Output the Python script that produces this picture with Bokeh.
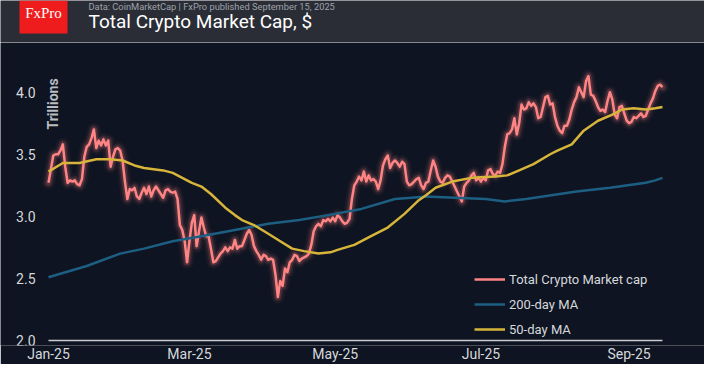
import math
import numpy as np
import pandas as pd
from bokeh.plotting import figure
from bokeh.models import Range1d, FixedTicker, Legend, LegendItem
from bokeh.layouts import column
from bokeh.embed import file_html
from bokeh.resources import INLINE
from bokeh.core.properties import value

# ---------------- data ----------------
start_date = "2025-01-01"

# Total crypto market cap, trillions USD, daily from 2025-01-01
market_cap = [
    3.27, 3.38, 3.49, 3.50, 3.50, 3.53, 3.58, 3.40, 3.27, 3.29,
    3.28, 3.29, 3.26, 3.25, 3.30, 3.48, 3.56, 3.58, 3.63, 3.70,
    3.55, 3.61, 3.57, 3.62, 3.57, 3.61, 3.40, 3.48, 3.54, 3.55,
    3.53, 3.45, 3.28, 3.14, 3.22, 3.21, 3.23, 3.16, 3.14, 3.19,
    3.23, 3.18, 3.24, 3.16, 3.21, 3.24, 3.21, 3.18, 3.15, 3.21,
    3.22, 3.20, 3.19, 3.20, 3.14, 2.93, 2.89, 2.80, 2.63, 2.80,
    2.95, 3.01, 2.76, 2.88, 2.99, 2.91, 2.84, 2.84, 2.74, 2.63,
    2.64, 2.67, 2.70, 2.72, 2.75, 2.72, 2.75, 2.74, 2.81, 2.74,
    2.76, 2.76, 2.81, 2.86, 2.89, 2.85, 2.76, 2.72, 2.69, 2.65,
    2.69, 2.68, 2.65, 2.66, 2.65, 2.53, 2.35, 2.48, 2.44, 2.58,
    2.55, 2.63, 2.65, 2.69, 2.68, 2.64, 2.66, 2.67, 2.68, 2.70,
    2.77, 2.88, 2.92, 2.94, 2.92, 2.97, 2.96, 2.98, 2.96, 2.99,
    2.96, 3.01, 2.99, 2.96, 2.94, 2.95, 2.98, 3.14, 3.25, 3.28,
    3.32, 3.29, 3.36, 3.28, 3.33, 3.29, 3.30, 3.28, 3.22, 3.29,
    3.41, 3.46, 3.49, 3.39, 3.43, 3.45, 3.43, 3.40, 3.44, 3.42,
    3.28, 3.25, 3.26, 3.28, 3.30, 3.31, 3.25, 3.22, 3.27, 3.28,
    3.37, 3.45, 3.40, 3.32, 3.28, 3.27, 3.31, 3.33, 3.32, 3.28,
    3.24, 3.20, 3.16, 3.12, 3.24, 3.27, 3.29, 3.33, 3.35, 3.29,
    3.31, 3.28, 3.31, 3.29, 3.37, 3.38, 3.34, 3.33, 3.36, 3.35,
    3.42, 3.56, 3.66, 3.67, 3.70, 3.79, 3.66, 3.75, 3.90, 3.86,
    3.87, 3.92, 3.89, 3.91, 3.88, 3.79, 3.80, 3.88, 3.96, 3.97,
    3.90, 3.91, 3.80, 3.73, 3.69, 3.67, 3.73, 3.73, 3.78, 3.86,
    3.92, 3.96, 4.04, 4.00, 3.96, 4.09, 4.13, 3.98, 3.97, 3.93,
    3.88, 3.85, 3.86, 3.84, 3.93, 4.00, 3.94, 3.82, 3.79, 3.88,
    3.89, 3.83, 3.77, 3.75, 3.76, 3.80, 3.79, 3.81, 3.83, 3.80,
    3.81, 3.86, 3.91, 3.95, 4.01, 4.05, 4.06, 4.04,
]

# 50-day moving average (day offset from start, value)
ma50_days = [0, 6, 13, 20, 26, 31, 36, 40, 44, 48, 52, 56, 60, 64, 68, 74, 78, 81,
             86, 92, 97, 102, 107, 113, 118, 121, 128, 135, 142, 149, 155, 158, 162,
             169, 177, 187, 192, 197, 203, 210, 213, 219, 224, 230, 236, 240, 245,
             250, 254, 257]
ma50_values = [3.36, 3.43, 3.43, 3.46, 3.46, 3.45, 3.41, 3.39, 3.38, 3.37, 3.35, 3.31,
               3.27, 3.24, 3.18, 3.07, 3.01, 2.97, 2.93, 2.86, 2.80, 2.74, 2.72, 2.70,
               2.71, 2.73, 2.77, 2.84, 2.91, 3.02, 3.13, 3.17, 3.23, 3.28, 3.31, 3.32,
               3.33, 3.37, 3.42, 3.50, 3.53, 3.58, 3.69, 3.77, 3.82, 3.86, 3.87, 3.86,
               3.87, 3.88]

# 200-day moving average (day offset from start, value)
ma200_days = [0, 16, 30, 40, 52, 64, 78, 92, 105, 117, 131, 145, 152, 158, 170, 183,
              191, 200, 207, 221, 235, 250, 254, 257]
ma200_values = [2.51, 2.60, 2.70, 2.74, 2.80, 2.84, 2.89, 2.94, 2.97, 3.01, 3.06, 3.14,
                3.15, 3.16, 3.15, 3.14, 3.12, 3.14, 3.16, 3.20, 3.23, 3.27, 3.29, 3.31]

series_names = ["Total Crypto Market cap", "200-day MA", "50-day MA"]
tick_dates = ["2025-01-01", "2025-03-01", "2025-05-01", "2025-07-01", "2025-09-01"]
tick_labels = ["Jan-25", "Mar-25", "May-25", "Jul-25", "Sep-25"]
y_ticks = [2.0, 2.5, 3.0, 3.5, 4.0]
y_tick_labels = ["2.0", "2.5", "3.0", "3.5", "4.0"]

title_text = "Total Crypto Market Cap, $"
subtitle_text = "Data: CoinMarketCap | FxPro published September 15, 2025"
brand_text = "FxPro"
axis_title = "Trillions"

# ---------------- styles / layout ----------------
BG = "#0e1421"
HEADER_BG = "#2a2d36"
RED = "#ff8484"
BLUE = "#1d5f82"
YELLOW = "#d7b43a"
TXT = "#d6d8dc"
FONT = "Roboto"
W = 704
HH = 42          # header height
MH = 322         # main chart height
PAD_L, PAD_R = 48, 42   # empty space left / right of the data area (px)
BOTTOM = 17

t0 = pd.Timestamp(start_date)
dates = t0 + pd.to_timedelta(np.arange(len(market_cap)), unit="D")
ma50_dates = t0 + pd.to_timedelta(np.array(ma50_days), unit="D")
ma200_dates = t0 + pd.to_timedelta(np.array(ma200_days), unit="D")

# ---------------- header (coordinates = pixels) ----------------
h = figure(width=W, height=HH, x_range=Range1d(0, W), y_range=Range1d(0, HH),
           output_backend="svg", toolbar_location=None,
           x_axis_location=None, y_axis_location=None,
           background_fill_color=HEADER_BG, border_fill_color=HEADER_BG,
           outline_line_color=None, min_border=0)
h.grid.visible = False
h.quad(left=19, right=67, top=HH, bottom=9, color="#ee1c1c", line_color=None)
h.text(x=[43], y=[HH - 12], text=[brand_text], text_align="center", text_baseline="middle",
       text_font=value("Liberation Serif"), text_font_size="15px", text_color="white")
h.text(x=[88], y=[HH - 6], text=[subtitle_text], text_align="left", text_baseline="middle",
       text_font=value(FONT), text_font_size="9.3px", text_color="#9ea2aa")
h.text(x=[88], y=[HH - 21], text=[title_text], text_align="left", text_baseline="middle",
       text_font=value(FONT), text_font_size="19px", text_color="white")

# ---------------- main chart ----------------
n_days = len(market_cap) - 1
px_per_day = (W - PAD_L - PAD_R) / n_days
x_start = t0 - pd.Timedelta(days=PAD_L / px_per_day)
x_end = dates[-1] + pd.Timedelta(days=PAD_R / px_per_day)

p = figure(width=W, height=MH, x_axis_type="datetime",
           x_range=Range1d(x_start, x_end), y_range=Range1d(1.96, 4.40),
           output_backend="svg", toolbar_location=None, y_axis_location=None,
           background_fill_color=BG, border_fill_color=BG, outline_line_color=None,
           min_border_left=0, min_border_right=0, min_border_top=0,
           min_border_bottom=BOTTOM)
p.grid.visible = False

# x axis baseline across the data span
p.segment(x0=[dates[0]], x1=[dates[-1]], y0=[y_ticks[0]], y1=[y_ticks[0]],
          line_color="#c9cbd0", line_width=1.5)

# glow for the market-cap line
for w, a in [(13, 0.05), (9, 0.09), (6, 0.16)]:
    p.line(dates, market_cap, line_width=w, line_alpha=a, color=RED,
           line_join="round", line_cap="round")
r_cap = p.line(dates, market_cap, line_width=2.5, color=RED, line_join="round")
r_200 = p.line(ma200_dates, ma200_values, line_width=2.5, color=BLUE, line_join="round")
r_50 = p.line(ma50_dates, ma50_values, line_width=2.5, color=YELLOW, line_join="round")

# x axis (tick labels)
xa = p.xaxis[0]
tick_ms = [pd.Timestamp(d).value // 10**6 for d in tick_dates]
xa.ticker = FixedTicker(ticks=tick_ms)
xa.major_label_overrides = {t: lab for t, lab in zip(tick_ms, tick_labels)}
xa.axis_line_color = None
xa.major_tick_line_color = None
xa.minor_tick_line_color = None
xa.major_tick_out = 0
xa.major_tick_in = 0
xa.minor_tick_out = 0
xa.major_label_standoff = 0
xa.major_label_text_font = FONT
xa.major_label_text_font_size = "14px"
xa.major_label_text_color = TXT

# y tick labels, placed through the y scale
p.text(x=[dates[0]] * len(y_ticks), y=y_ticks, text=y_tick_labels, x_offset=-13,
       text_align="right", text_baseline="middle", text_font=value(FONT),
       text_font_size="14px", text_color=TXT)

p.text(x=[t0 + pd.Timedelta(days=2)], y=[3.905], text=[axis_title], angle=math.pi / 2,
       text_align="center", text_baseline="middle", text_font=value(FONT),
       text_font_size="14px", text_font_style="bold", text_color="#b9bcc2")

legend = Legend(items=[LegendItem(label=series_names[0], renderers=[r_cap]),
                       LegendItem(label=series_names[1], renderers=[r_200]),
                       LegendItem(label=series_names[2], renderers=[r_50])],
                location=(474, 6), orientation="vertical",
                background_fill_alpha=0, border_line_alpha=0,
                label_text_color=TXT, label_text_font=FONT, label_text_font_size="13px",
                glyph_width=31, glyph_height=20, label_height=20, label_standoff=4,
                spacing=5, padding=0, margin=0)
p.add_layout(legend)

layout = column(h, p, spacing=0)
open("out.html", "w").write(file_html(layout, INLINE))
